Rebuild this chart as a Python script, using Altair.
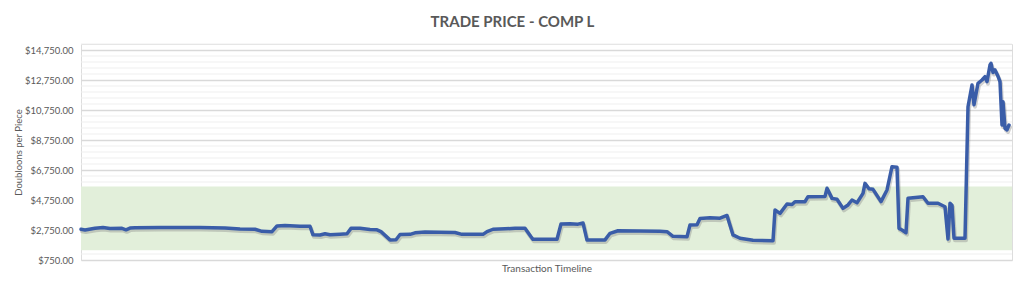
import altair as alt
import pandas as pd

# Transaction index (timeline position) and trade price
tx = [0, 4, 14, 22, 29, 41, 45, 49, 54, 79, 119, 144, 159, 174, 181, 191, 196, 204, 219, 229,
      232, 239, 244, 249, 259, 266, 270, 279, 289, 296, 300, 309, 315, 319, 329, 334, 344, 359,
      374, 381, 402, 406, 412, 424, 434, 444, 450, 452, 476, 480, 489, 497, 502, 506, 524, 529,
      537, 559, 579, 586, 592, 606, 609, 616, 619, 629, 639, 646, 652, 659, 672, 692, 694, 699,
      706, 711, 714, 724, 727, 744, 746, 751, 756, 762, 767, 771, 776, 782, 784, 788, 792, 800,
      806, 811, 816, 818, 821, 825, 827, 842, 847, 857, 864, 867, 869, 871, 873, 884, 887, 891,
      893, 897, 901, 904, 906, 909, 910, 912, 914, 917, 919, 921, 922, 924, 926, 928, 931]
price = [2800, 2750, 2870, 2920, 2850, 2860, 2760, 2880, 2900, 2920, 2920, 2880, 2820, 2800,
         2660, 2640, 3020, 3050, 3000, 3000, 2430, 2420, 2500, 2430, 2470, 2500, 2860, 2860,
         2780, 2760, 2640, 2090, 2100, 2450, 2460, 2560, 2620, 2600, 2580, 2460, 2460, 2640,
         2800, 2830, 2860, 2860, 2300, 2130, 2130, 3150, 3160, 3140, 3220, 2080, 2090, 2530,
         2700, 2680, 2660, 2640, 2330, 2300, 3080, 3100, 3520, 3560, 3540, 3720, 2420, 2200,
         2060, 2040, 4080, 3860, 4480, 4450, 4640, 4640, 4970, 4990, 5530, 4860, 4800, 4190,
         4420, 4750, 4570, 5190, 5860, 5500, 5460, 4640, 5420, 6970, 6930, 2860, 2750, 2570,
         4860, 4970, 4530, 4530, 4300, 2150, 4530, 4400, 2200, 2200, 10970, 12420, 11100,
         12530, 12750, 12970, 12640, 13750, 13860, 13250, 13420, 13000, 12640, 9750, 11300,
         9530, 9420, 9750]

major_ticks = [750, 2750, 4750, 6750, 8750, 10750, 12750, 14750]
minor_grid = [v for v in range(750, 15151, 400) if v not in major_ticks]
band_low = [1400]
band_high = [5650]
band_start = [0]
band_end = [931]

W, H = 931, 216
GRAY = "#595959"
FONT = "Lato"

yscale = alt.Scale(domain=[750, 15150], nice=False, zero=False)
xscale = alt.Scale(domain=[0, 931], nice=False, zero=False)

yaxis = alt.Axis(values=major_ticks, format="$,.2f", labelFont=FONT, labelFontSize=9.5,
                 labelColor=GRAY, ticks=False, domain=False, grid=True,
                 gridColor="#D9D9D9", gridWidth=1.5, labelPadding=8,
                 title="Doubloons per Piece", titleFont=FONT, titleFontSize=9.5,
                 titleFontWeight="normal", titleColor=GRAY, titleAngle=-90,
                 titleX=-63, titleY=108, titleBaseline="middle", titleAlign="center")
xaxis = alt.Axis(labels=False, ticks=False, domain=False, grid=False,
                 title="Transaction Timeline", titleFont=FONT, titleFontSize=10,
                 titleFontWeight="normal", titleColor=GRAY, titlePadding=3)

n = min(len(tx), len(price))
df = pd.DataFrame({"Transaction": tx[:n], "Price": price[:n]})

minor = alt.Chart(pd.DataFrame({"v": minor_grid})).mark_rule(
    color="#EFEFEF", strokeWidth=1
).encode(y=alt.Y("v:Q", scale=yscale, axis=yaxis))

band = alt.Chart(pd.DataFrame({"x0": band_start, "x1": band_end,
                               "lo": band_low, "hi": band_high})).mark_rect(
    color="#E2EFDA"
).encode(
    x=alt.X("x0:Q", scale=xscale, axis=xaxis), x2="x1:Q",
    y=alt.Y("lo:Q", scale=yscale, axis=yaxis), y2="hi:Q",
)

shadow = alt.Chart(df).mark_line(
    color="#7F7F7F", opacity=0.35, strokeWidth=4, yOffset=2, xOffset=1,
    strokeJoin="round", strokeCap="round"
).encode(
    x=alt.X("Transaction:Q", scale=xscale, axis=xaxis),
    y=alt.Y("Price:Q", scale=yscale, axis=yaxis),
)

line = alt.Chart(df).mark_line(
    color="#3A5DA8", strokeWidth=3.5, strokeJoin="round", strokeCap="round"
).encode(
    x=alt.X("Transaction:Q", scale=xscale, axis=xaxis),
    y=alt.Y("Price:Q", scale=yscale, axis=yaxis),
)

chart = alt.layer(minor, band, shadow, line).properties(
    width=W, height=H,
    autosize=alt.AutoSizeParams(type="none"),
    padding={"left": 81, "top": 44, "right": 12, "bottom": 28},
    title=alt.TitleParams("TRADE PRICE - COMP L", font=FONT, fontSize=15,
                          fontWeight="bold", color=GRAY, anchor="middle",
                          dx=-34, offset=14),
).configure_view(stroke=None).configure(background="white")

chart.save("out.html", embed_options={"renderer": "svg", "actions": False})
